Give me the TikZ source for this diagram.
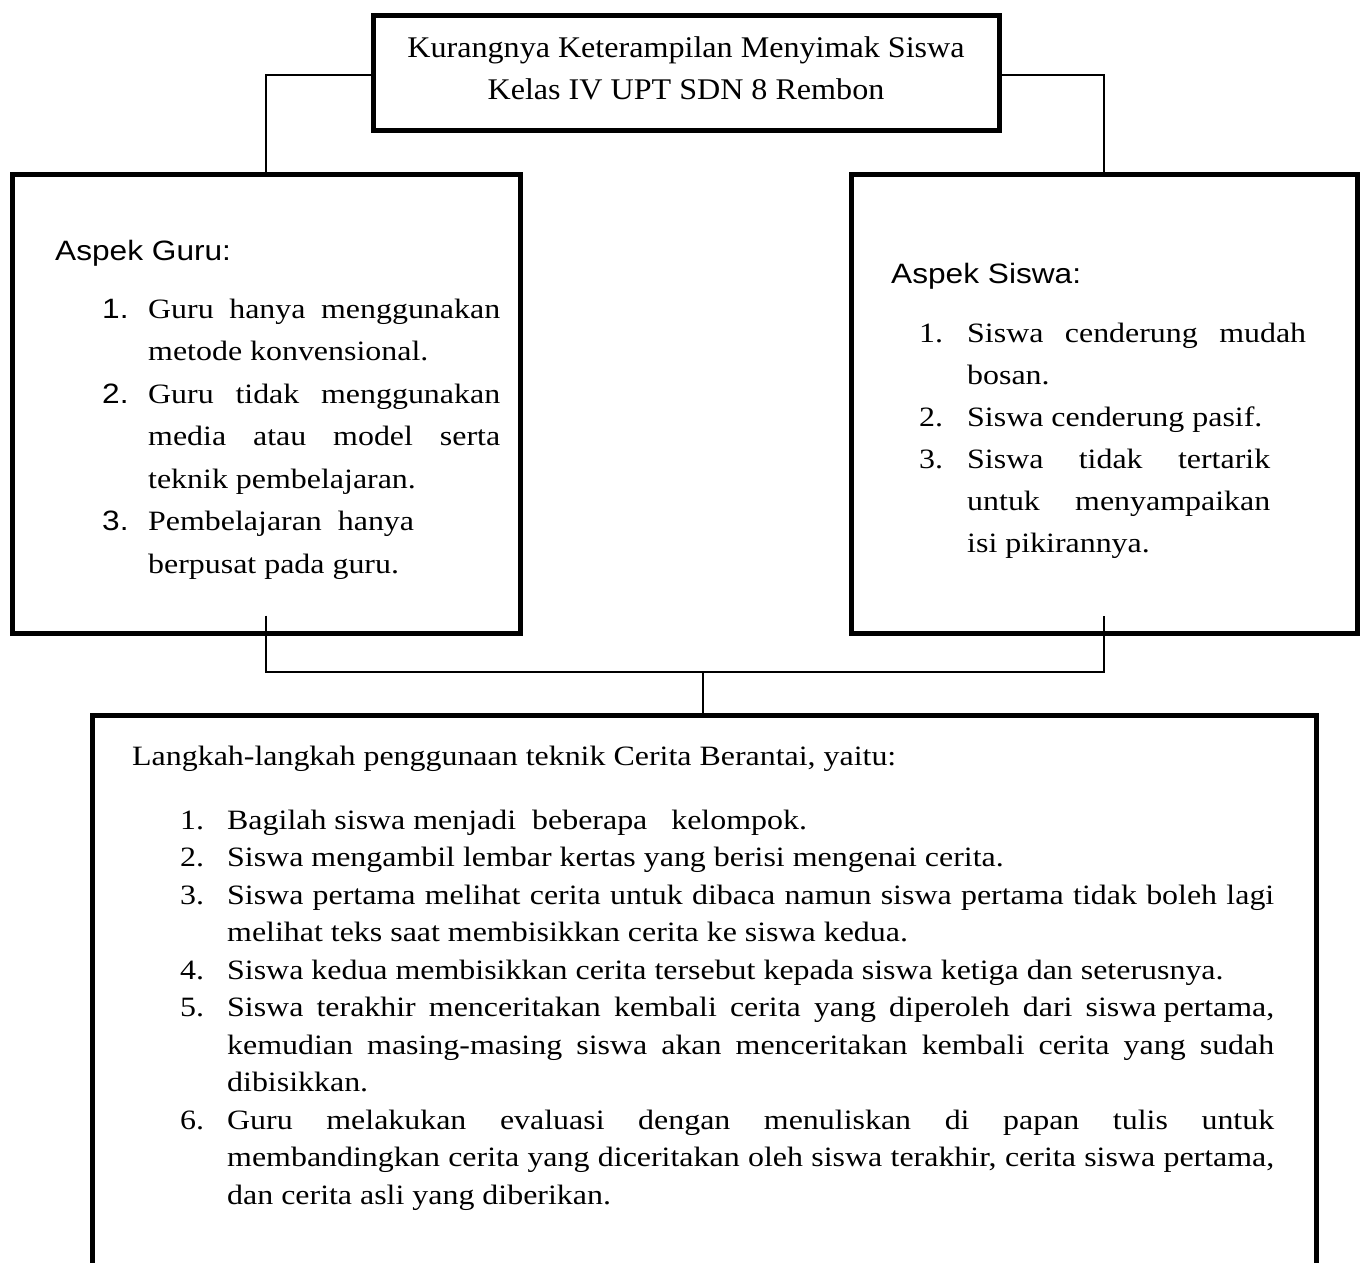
\documentclass[tikz,border=0pt]{standalone}
\usepackage{fontspec}
\newfontfamily\tnr{Liberation Serif}[FakeStretch=1.14]
\newfontfamily\tnrT{Liberation Serif}[FakeStretch=1.07]
\newfontfamily\arl{Liberation Sans}[FakeStretch=1.13]
\usetikzlibrary{calc}
\tikzset{
  boxnode/.style={draw, line width=5pt, inner sep=0pt, rectangle},
  conn/.style={line width=1.6pt},
  tx/.style={anchor=base west, inner sep=0pt, font=\tnr\fontsize{28}{34}\selectfont},
  tt/.style={anchor=base, inner sep=0pt, font=\tnrT\fontsize{30}{36}\selectfont},
  ta/.style={anchor=base west, inner sep=0pt, font=\arl\fontsize{28}{34}\selectfont},
}
\newcommand\jline[2]{\makebox[#1pt][s]{#2}}
\begin{document}
\begin{tikzpicture}[x=1pt,y=-1pt]
\useasboundingbox (0,0) rectangle (1362,1262);
\clip (0,0) rectangle (1362,1262);

% boxes
\node[boxnode, minimum width=626pt, minimum height=115pt] (top) at (686,73) {};
\node[boxnode, minimum width=508pt, minimum height=459pt] (guru) at (266,403.5) {};
\node[boxnode, minimum width=506pt, minimum height=459pt] (siswa) at (1104,403.5) {};
\node[boxnode, minimum width=1224pt, minimum height=600pt] (langkah) at (704,1015) {};

% title
\node[tt] (t1) at (686,57) {Kurangnya Keterampilan Menyimak Siswa};
\node[tt] (t2) at (686,99) {Kelas IV UPT SDN 8 Rembon};

% Aspek Guru
\node[ta] (gh) at (55,260) {Aspek Guru:};
\node[ta] (gn1) at (102,318) {1.};
\node[ta] (gn2) at (102,403) {2.};
\node[ta] (gn3) at (102,530.5) {3.};
\node[tx] (g1) at (148,318) {\jline{352}{Guru hanya menggunakan}};
\node[tx] (g2) at (148,360.5) {metode konvensional.};
\node[tx] (g3) at (148,403) {\jline{352}{Guru tidak menggunakan}};
\node[tx] (g4) at (148,445.5) {\jline{352}{media atau model serta}};
\node[tx] (g5) at (148,488) {teknik pembelajaran.};
\node[tx] (g6) at (148,530.5) {Pembelajaran\ \ hanya};
\node[tx] (g7) at (148,573) {berpusat pada guru.};

% Aspek Siswa
\node[ta] (sh) at (891,283) {Aspek Siswa:};
\node[tx] (sn1) at (919,342) {1.};
\node[tx] (sn2) at (919,426) {2.};
\node[tx] (sn3) at (919,468) {3.};
\node[tx] (s1) at (967,342) {\jline{339}{Siswa cenderung mudah}};
\node[tx] (s2) at (967,384) {bosan.};
\node[tx] (s3) at (967,426) {Siswa cenderung pasif.};
\node[tx] (s4) at (967,468) {\jline{303}{Siswa tidak tertarik}};
\node[tx] (s5) at (967,510) {\jline{303}{untuk menyampaikan}};
\node[tx] (s6) at (967,552) {isi pikirannya.};

% Langkah
\node[tx] (lh) at (132,765) {Langkah-langkah penggunaan teknik Cerita Berantai, yaitu:};
\node[tx] (ln1) at (180,829) {1.};
\node[tx] (ln2) at (180,866.5) {2.};
\node[tx] (ln3) at (180,904) {3.};
\node[tx] (ln4) at (180,979) {4.};
\node[tx] (ln5) at (180,1016.5) {5.};
\node[tx] (ln6) at (180,1129) {6.};
\node[tx] (l1) at (227,829) {Bagilah siswa menjadi\ \ beberapa\ \ \ kelompok.};
\node[tx] (l2) at (227,866.5) {Siswa mengambil lembar kertas yang berisi mengenai cerita.};
\node[tx] (l3) at (227,904) {\jline{1047}{Siswa pertama melihat cerita untuk dibaca namun siswa pertama tidak boleh lagi}};
\node[tx] (l4) at (227,941.5) {melihat teks saat membisikkan cerita ke siswa kedua.};
\node[tx] (l5) at (227,979) {Siswa kedua membisikkan cerita tersebut kepada siswa ketiga dan seterusnya.};
\node[tx] (l6) at (227,1016.5) {\jline{1047}{Siswa terakhir menceritakan kembali cerita yang diperoleh dari siswa\hspace{0.25em}pertama,}};
\node[tx] (l7) at (227,1054) {\jline{1047}{kemudian masing-masing siswa akan menceritakan kembali cerita yang sudah}};
\node[tx] (l8) at (227,1091.5) {dibisikkan.};
\node[tx] (l9) at (227,1129) {\jline{1047}{Guru melakukan evaluasi dengan menuliskan di papan tulis untuk}};
\node[tx] (l10) at (227,1166.5) {\jline{1047}{membandingkan cerita yang diceritakan oleh siswa terakhir, cerita siswa pertama,}};
\node[tx] (l11) at (227,1204) {dan cerita asli yang diberikan.};

% connectors
\draw[conn] (top.west |- 0,75) -| (guru.north);
\draw[conn] (top.east |- 0,75) -| (siswa.north);
\coordinate (hub) at (703,672);
\draw[conn] ([yshift=20pt]guru.south) |- (hub) -| ([yshift=20pt]siswa.south);
\draw[conn] (hub) -- (hub |- langkah.north);
\end{tikzpicture}
\end{document}
